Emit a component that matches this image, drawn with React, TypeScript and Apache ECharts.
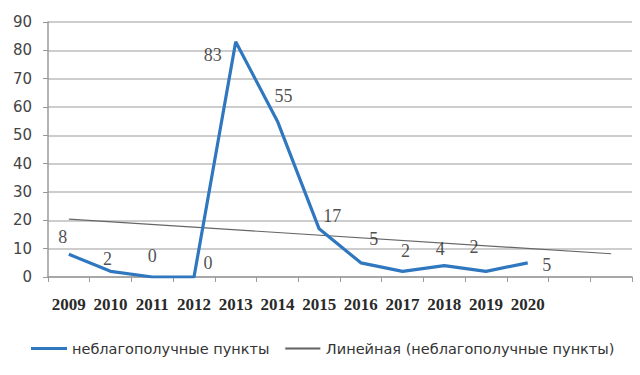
import React, { useEffect, useRef } from "react";
import * as echarts from "echarts";

const categories = ["2009", "2010", "2011", "2012", "2013", "2014", "2015", "2016", "2017", "2018", "2019", "2020", "", ""];
const values = [8, 2, 0, 0, 83, 55, 17, 5, 2, 4, 2, 5];
const trendIndex = [0, 13];
const trendValues = [20.4, 8.2];
const yTicks = { min: 0, max: 90, interval: 10 };
const seriesName = "неблагополучные пункты";
const trendName = "Линейная (неблагополучные пункты)";

// label offsets (px) relative to each point
const labelOffsets: [number, number][] = [
  [-6, -17], [-3, -12], [0, -21], [14, -14], [-23, 13], [6, -25],
  [13, -13], [13, -24], [3, -20], [-4, -17], [-12, -24], [19, 2],
];

export default function App() {
  const ref = useRef<HTMLDivElement>(null);
  useEffect(() => {
    document.body.style.margin = "0";
    const chart = echarts.init(ref.current!, null, { renderer: "svg" });
    const blue = "#2f77be";
    const gray = "#666";
    chart.setOption({
      animation: false,
      backgroundColor: "#ffffff",
      grid: { left: 48, top: 22, width: 584, height: 255 },
      legend: {
        left: 31,
        top: 341,
        padding: 0,
        icon: "rect",
        itemWidth: 36,
        itemHeight: 3,
        itemGap: 15,
        data: [
          { name: seriesName, itemStyle: { color: blue } },
          { name: trendName, itemStyle: { color: gray, borderColor: "#fff", borderWidth: 0.9 } },
        ],
        textStyle: { fontFamily: "'DejaVu Sans'", fontSize: 14.5, color: "#333" },
      },
      xAxis: {
        type: "category",
        data: categories,
        boundaryGap: true,
        axisLine: { lineStyle: { color: "#9a9a9a", width: 1.5 } },
        axisTick: { show: true, interval: 0, length: 5, lineStyle: { color: "#9a9a9a" } },
        axisLabel: {
          interval: 0,
          margin: 19,
          fontFamily: "'Liberation Serif'",
          fontWeight: "bold",
          fontSize: 17,
          color: "#2a2a2a",
        },
        splitLine: { show: false },
      },
      yAxis: {
        type: "value",
        min: yTicks.min,
        max: yTicks.max,
        interval: yTicks.interval,
        axisLine: { show: true, lineStyle: { color: "#9a9a9a", width: 1.5 } },
        axisTick: { show: true, length: 5, lineStyle: { color: "#9a9a9a" } },
        axisLabel: { margin: 16, fontFamily: "'DejaVu Sans'", fontSize: 15, color: "#444" },
        splitLine: { lineStyle: { color: "#bdbdbd", width: 1.5 } },
      },
      series: [
        {
          name: seriesName,
          type: "line",
          data: values,
          showSymbol: false,
          symbol: "none",
          lineStyle: { color: blue, width: 3.2 },
          itemStyle: { color: blue },
          z: 3,
        },
        {
          name: trendName,
          type: "line",
          data: trendIndex.map((x, i) => [x, trendValues[i]]),
          symbol: "none",
          lineStyle: { color: gray, width: 1.2 },
          itemStyle: { color: gray },
          z: 2,
        },
        {
          name: "labels",
          type: "scatter",
          symbolSize: 1,
          itemStyle: { color: "rgba(0,0,0,0)" },
          silent: true,
          z: 4,
          label: {
            show: true,
            position: "inside",
            formatter: (p: any) => String(p.value[1]),
            fontFamily: "'Liberation Serif', serif",
            fontSize: 18,
            fontWeight: "normal",
            color: "#222",
          },
          data: values.map((v, i) => ({
            value: [i, v],
            label: { offset: labelOffsets[i] },
          })),
        },
      ],
    });
    return () => chart.dispose();
  }, []);
  return <div ref={ref} style={{ width: 640, height: 375 }} />;
}
